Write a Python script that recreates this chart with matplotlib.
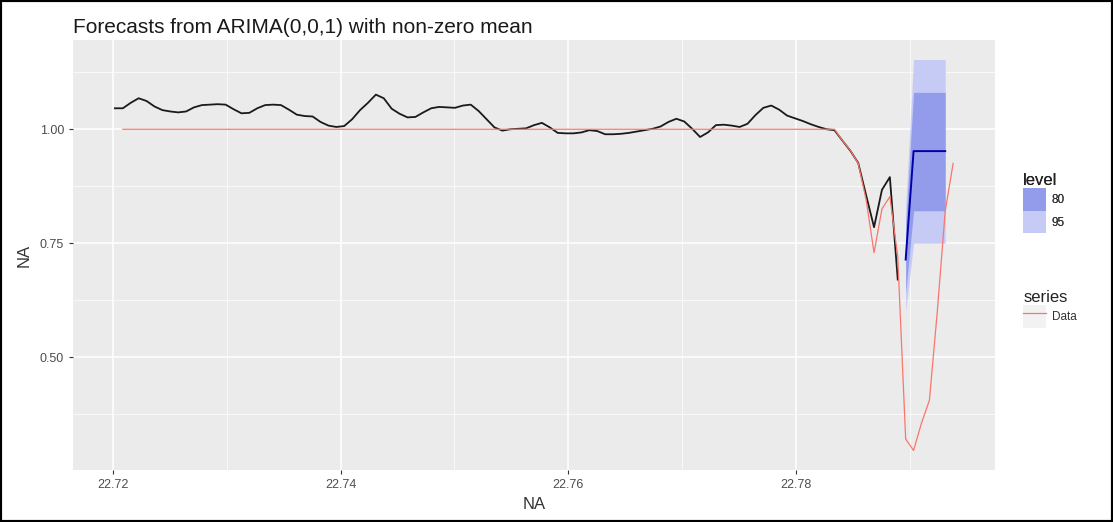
import numpy as np
import matplotlib.pyplot as plt
from matplotlib.patches import Patch, Rectangle
from matplotlib.lines import Line2D
from matplotlib.legend_handler import HandlerTuple

plt.rcParams['font.family'] = ['Liberation Sans', 'DejaVu Sans']

# time axis: one observation per minute of the day
t0 = 22.72018
step = 1 / 1440

# observed series (black)
observed = [
    1.046, 1.046, 1.058, 1.068, 1.062, 1.050, 1.042, 1.039, 1.037, 1.039,
    1.048, 1.053, 1.054, 1.055, 1.054, 1.044, 1.035, 1.036, 1.046, 1.053,
    1.054, 1.053, 1.043, 1.032, 1.029, 1.028, 1.016, 1.008, 1.005, 1.007,
    1.022, 1.042, 1.058, 1.076, 1.068, 1.045, 1.034, 1.026, 1.027, 1.037,
    1.046, 1.049, 1.048, 1.047, 1.052, 1.054, 1.040, 1.022, 1.004, 0.997,
    1.000, 1.001, 1.002, 1.009, 1.014, 1.004, 0.992, 0.991, 0.991, 0.993,
    0.998, 0.996, 0.989, 0.989, 0.990, 0.992, 0.995, 0.998, 1.001, 1.006,
    1.016, 1.023, 1.017, 1.001, 0.983, 0.993, 1.009, 1.010, 1.008, 1.005,
    1.012, 1.031, 1.047, 1.052, 1.043, 1.030, 1.024, 1.018, 1.011, 1.005,
    1.000, 0.998, 0.975, 0.953, 0.926, 0.855, 0.785, 0.867, 0.895, 0.670,
]

# "Data" series (red), starts one step after the observed series
data_series = [1.000] * 91 + [
    0.975, 0.954, 0.925, 0.845, 0.729, 0.825, 0.852, 0.720,
    0.320, 0.295, 0.355, 0.405, 0.600, 0.820, 0.925,
]

# ARIMA(0,0,1) point forecasts and prediction intervals (h = 1..6)
fc_mean = [0.714, 0.952, 0.952, 0.952, 0.952, 0.952]
lo80 = [0.640, 0.821, 0.821, 0.821, 0.821, 0.821]
hi80 = [0.790, 1.081, 1.081, 1.081, 1.081, 1.081]
lo95 = [0.600, 0.750, 0.750, 0.750, 0.750, 0.750]
hi95 = [0.830, 1.153, 1.153, 1.153, 1.153, 1.153]

t_obs = t0 + step * np.arange(len(observed))
t_data = t0 + step * (1 + np.arange(len(data_series)))
t_fc = t0 + step * (len(observed) + np.arange(len(fc_mean)))

col80 = '#939CEB'
col95 = '#C6CBF5'

fig = plt.figure(figsize=(11.13, 5.22), dpi=100)
ax = fig.add_axes([0.0656, 0.0996, 0.8284, 0.8238])
ax.set_facecolor('#EBEBEB')

ax.fill_between(t_fc, lo95, hi95, color=col95, linewidth=0, zorder=2)
ax.fill_between(t_fc, lo80, hi80, color=col80, linewidth=0, zorder=3)
ax.plot(t_obs, observed, color='#1a1a1a', lw=1.3, zorder=4)
ax.plot(t_fc, fc_mean, color='#0000AA', lw=1.4, zorder=5)
ax.plot(t_data, data_series, color='#F8766D', lw=0.9, zorder=6)

ax.margins(x=0.05, y=0.05)

xt = [22.72, 22.74, 22.76, 22.78]
yt = [0.50, 0.75, 1.00]
ax.set_xticks(xt)
ax.set_xticklabels([f'{v:.2f}' for v in xt])
ax.set_yticks(yt)
ax.set_yticklabels([f'{v:.2f}' for v in yt])
ax.set_xticks([22.73, 22.75, 22.77, 22.79], minor=True)
ax.set_yticks([0.375, 0.625, 0.875, 1.125], minor=True)

ax.grid(which='major', color='white', lw=1.1)
ax.grid(which='minor', color='white', lw=0.5)
ax.set_axisbelow(True)
for s in ax.spines.values():
    s.set_visible(False)
ax.tick_params(which='major', colors='#333333', labelcolor='#4D4D4D',
               labelsize=9, length=3, width=0.8)
ax.tick_params(which='minor', length=0)

ax.set_xlabel('NA', fontsize=12, color='#333333', labelpad=4)
ax.set_ylabel('NA', fontsize=12, color='#333333', labelpad=6)
ax.set_title('Forecasts from ARIMA(0,0,1) with non-zero mean', loc='left',
             fontsize=15, color='#1a1a1a', pad=5)

# legends on the right
leg_kw = dict(loc='upper left', frameon=False, fontsize=8.5, title_fontsize=12,
              handlelength=1.9, handleheight=2.6, labelspacing=0.0,
              handletextpad=0.5, borderpad=0.2)
leg1 = fig.legend(handles=[Patch(facecolor=col80, edgecolor='none'),
                           Patch(facecolor=col95, edgecolor='none')],
                  labels=['80', '95'], title='level',
                  bbox_to_anchor=(0.912, 0.685), **leg_kw)
leg1._legend_box.align = 'left'
key = (Patch(facecolor='#F2F2F2', edgecolor='none'),
       Line2D([], [], color='#F8766D', lw=0.9))
leg2 = fig.legend(handles=[key], labels=['Data'], title='series',
                  bbox_to_anchor=(0.912, 0.46),
                  handler_map={tuple: HandlerTuple(ndivide=1)}, **leg_kw)
leg2._legend_box.align = 'left'
fig.add_artist(leg1)
for lg in (leg1, leg2):
    lg.get_title().set_color('#222222')
    for txt in lg.get_texts():
        txt.set_color('#333333')

fig.patches.append(Rectangle((0, 0), 1, 1, transform=fig.transFigure,
                             fill=False, edgecolor='black', lw=3))

fig.savefig('out.png', dpi=100)
